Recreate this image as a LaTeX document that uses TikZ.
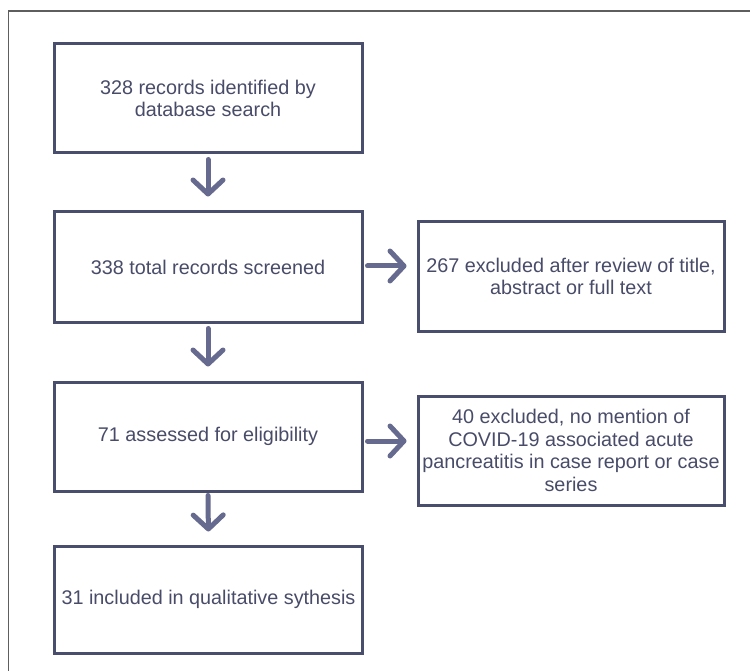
\documentclass[tikz,border=0pt]{standalone}
\usepackage{fontspec}
\setmainfont{Liberation Sans}
\usetikzlibrary{arrows.meta,calc}
\definecolor{boxc}{HTML}{4A4E6D}
\definecolor{arrc}{HTML}{666A8E}
\definecolor{txtc}{HTML}{484C69}
\definecolor{framec}{HTML}{5E5E5E}
\tikzset{
  flowbox/.style={draw=boxc, line width=3pt, minimum width=308pt, minimum height=109pt,
    align=center, text=txtc, inner sep=2pt,
    font=\fontsize{19.8}{22.8}\selectfont},
  flowarrow/.style={draw=arrc, line width=5pt, line cap=round,
    -{Straight Barb[round, length=14pt, width=30pt]}},
}
\begin{document}
\begin{tikzpicture}[x=1pt,y=-1pt]
\useasboundingbox (0,0) rectangle (750,671);
\fill[white] (0,0) rectangle (750,671);
\draw[framec, line width=1.6pt] (8.5,671) -- (8.5,11) -- (750,11);

\node[flowbox] (b1) at (208,98.5) {328 records identified by\\database search};
\node[flowbox, minimum height=110pt] (b2) at (208,267) {338 total records screened};
\node[flowbox] (b3) at (208,436.5) {71 assessed for eligibility};
\node[flowbox, minimum height=107pt] (b4) at (208.5,599.5) {31 included in qualitative sythesis};
\node[flowbox, minimum width=306pt] (r1) at (571,276.5) {267 excluded after review of title,\\abstract or full text};
\node[flowbox, minimum width=306pt] (r2) at (571,450.5) {40 excluded, no mention of\\COVID-19 associated acute\\pancreatitis in case report or case\\series};

\draw[flowarrow, shorten <=5pt, shorten >=14pt] (b1.south) -- (b2.north);
\draw[flowarrow, shorten <=5pt, shorten >=14pt] (b2.south) -- (b3.north);
\draw[flowarrow, shorten <=3pt, shorten >=13pt] (b3.south) -- (b4.north);

\coordinate (a1) at ([yshift=1pt]b2.east);
\coordinate (a2) at ([yshift=-4.5pt]b3.east);
\draw[flowarrow, shorten <=4pt, shorten >=10pt] (a1) -- (a1 -| r1.west);
\draw[flowarrow, shorten <=4pt, shorten >=10pt] (a2) -- (a2 -| r2.west);
\end{tikzpicture}
\end{document}
